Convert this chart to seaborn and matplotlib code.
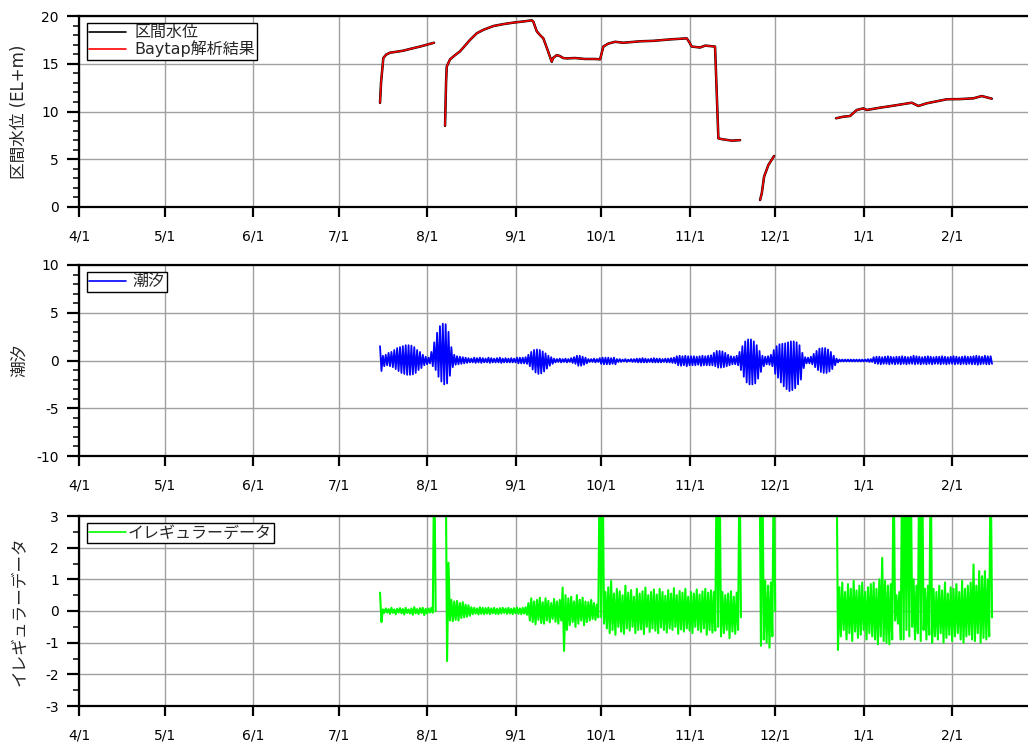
import numpy as np
import pandas as pd
import matplotlib
matplotlib.use("Agg")
import matplotlib.pyplot as plt
from matplotlib.lines import Line2D
from matplotlib.ticker import MultipleLocator, FixedLocator, FixedFormatter
import seaborn as sns

START = pd.Timestamp("2018-04-01")
END = pd.Timestamp("2019-03-01")
month_ticks = pd.date_range("2018-04-01", "2019-02-01", freq="MS")
tick_labels = ["4/1", "5/1", "6/1", "7/1", "8/1", "9/1", "10/1", "11/1", "12/1", "1/1", "2/1"]

# ---- 区間水位 (EL+m): observed segments, days counted from 4/1 ----
level_days = [
    [105.50, 105.85, 106.66, 107.61, 109.01, 111.11, 113.67, 116.02, 119.52, 121.98, 124.43],
    [128.29, 128.64, 128.88, 130.04, 131.79, 133.54, 135.30, 137.05, 139.40, 141.71, 145.22,
     148.72, 152.82, 156.33, 158.67, 159.24, 160.43, 161.58, 162.74, 164.04, 165.68, 166.14,
     167.44, 168.59, 169.65, 170.94, 173.85, 177.36, 180.86, 182.62, 183.77, 185.42, 187.87,
     190.78, 196.63, 201.30, 207.15, 213.00, 213.81, 214.76, 217.67, 219.42, 222.92, 224.08,
     225.38, 228.78, 231.69],
    [238.70, 239.29, 240.10, 241.61, 243.60],
    [265.33, 267.79, 270.24, 272.59, 274.90, 276.10, 280.76, 285.42, 291.87, 294.18, 297.13,
     304.14, 308.80, 313.46, 316.40, 317.91, 319.91],
]
level_vals = [
    [10.9, 13.0, 15.6, 15.95, 16.16, 16.25, 16.37, 16.55, 16.8, 17.0, 17.2],
    [8.5, 13.0, 14.7, 15.46, 15.9, 16.3, 16.9, 17.5, 18.19, 18.55, 18.95,
     19.15, 19.33, 19.45, 19.55, 19.4, 18.4, 18.0, 17.66, 16.6, 15.2, 15.6,
     15.9, 15.8, 15.6, 15.56, 15.6, 15.5, 15.5, 15.46, 16.8, 17.1, 17.3,
     17.2, 17.35, 17.4, 17.55, 17.66, 17.3, 16.8, 16.7, 16.9, 16.8, 7.19,
     7.1, 6.95, 7.0],
    [0.73, 1.43, 3.17, 4.4, 5.34],
    [9.29, 9.45, 9.53, 10.16, 10.33, 10.16, 10.4, 10.61, 10.92, 10.58, 10.86,
     11.28, 11.3, 11.38, 11.62, 11.5, 11.34],
]
# Baytap analysis result follows the observed level
baytap_vals = level_vals

# ---- daily high / low of the tidal and irregular components (from 7/15 12:00) ----
FIRST_DAY = 105.5
tide_hi = [
    1.5, 0.5, 0.6, 0.8, 0.9, 1.1, 1.3, 1.4, 1.5, 1.6,
    1.6, 1.55, 1.4, 1.1, 0.9, 0.6, 0.4, 0.3, 0.9, 1.9,
    2.9, 3.6, 3.85, 3.8, 3.0, 1.4, 0.6, 0.45, 0.4, 0.35,
    0.3, 0.25, 0.2, 0.3, 0.25, 0.3, 0.25, 0.2, 0.3, 0.25,
    0.2, 0.25, 0.3, 0.2, 0.25, 0.2, 0.25, 0.2, 0.3, 0.3,
    0.3, 0.35, 0.6, 0.9, 1.1, 1.15, 1.1, 0.95, 0.75, 0.5,
    0.35, 0.2, 0.15, 0.2, 0.15, 0.2, 0.15, 0.25, 0.35, 0.5,
    0.5, 0.4, 0.3, 0.15, 0.15, 0.2, 0.15, 0.25, 0.3, 0.3,
    0.3, 0.25, 0.3, 0.15, 0.15, 0.1, 0.15, 0.1, 0.15, 0.15,
    0.2, 0.2, 0.25, 0.2, 0.15, 0.2, 0.25, 0.2, 0.2, 0.15,
    0.2, 0.2, 0.25, 0.3, 0.45, 0.5, 0.45, 0.5, 0.45, 0.45,
    0.45, 0.4, 0.45, 0.5, 0.45, 0.5, 0.55, 0.8, 1.0, 1.0,
    0.95, 0.8, 0.6, 0.45, 0.4, 0.5, 0.9, 1.5, 2.0, 2.2,
    2.2, 2.0, 1.6, 1.0, 0.5, 0.4, 0.45, 0.6, 1.1, 1.5,
    1.7, 1.75, 1.8, 1.9, 2.0, 2.0, 1.9, 1.6, 0.8, 0.35,
    0.3, 0.4, 0.7, 1.0, 1.25, 1.3, 1.3, 1.15, 0.9, 0.5,
    0.2, 0.1, 0.1, 0.1, 0.1, 0.1, 0.1, 0.1, 0.1, 0.1,
    0.1, 0.15, 0.15, 0.35, 0.4, 0.4, 0.35, 0.4, 0.45, 0.4,
    0.35, 0.4, 0.4, 0.45, 0.4, 0.35, 0.4, 0.5, 0.45, 0.4,
    0.35, 0.4, 0.45, 0.4, 0.35, 0.4, 0.4, 0.45, 0.4, 0.35,
    0.4, 0.45, 0.4, 0.35, 0.4, 0.45, 0.4, 0.4, 0.45, 0.5,
    0.45, 0.4, 0.5, 0.45, 0.45,
]
tide_lo = [
    -1.1, -0.6, -0.5, -0.6, -0.7, -0.9, -1.1, -1.3, -1.4, -1.5,
    -1.5, -1.45, -1.3, -1.0, -0.8, -0.5, -0.4, -0.3, -0.6, -1.0,
    -1.7, -2.2, -2.5, -2.4, -1.6, -0.7, -0.45, -0.4, -0.35, -0.3,
    -0.25, -0.2, -0.2, -0.25, -0.2, -0.25, -0.2, -0.2, -0.25, -0.2,
    -0.2, -0.2, -0.25, -0.2, -0.2, -0.2, -0.2, -0.2, -0.3, -0.3,
    -0.3, -0.35, -0.6, -0.95, -1.25, -1.4, -1.35, -1.15, -0.85, -0.55,
    -0.35, -0.2, -0.15, -0.2, -0.15, -0.2, -0.15, -0.25, -0.35, -0.55,
    -0.55, -0.45, -0.3, -0.15, -0.15, -0.2, -0.15, -0.35, -0.4, -0.4,
    -0.4, -0.35, -0.4, -0.15, -0.15, -0.1, -0.15, -0.1, -0.15, -0.15,
    -0.2, -0.2, -0.2, -0.2, -0.15, -0.2, -0.2, -0.2, -0.2, -0.15,
    -0.2, -0.2, -0.25, -0.3, -0.5, -0.55, -0.5, -0.6, -0.5, -0.5,
    -0.5, -0.45, -0.55, -0.5, -0.5, -0.5, -0.5, -0.6, -0.75, -0.75,
    -0.7, -0.6, -0.5, -0.4, -0.4, -0.5, -1.0, -1.7, -2.3, -2.5,
    -2.5, -2.4, -1.9, -1.2, -0.6, -0.4, -0.45, -0.6, -1.4, -1.8,
    -2.3, -2.7, -3.0, -3.2, -3.1, -2.9, -2.5, -2.0, -0.8, -0.3,
    -0.3, -0.4, -0.7, -1.0, -1.2, -1.3, -1.3, -1.15, -0.9, -0.5,
    -0.2, -0.1, -0.1, -0.1, -0.1, -0.1, -0.1, -0.1, -0.1, -0.1,
    -0.1, -0.15, -0.15, -0.3, -0.35, -0.4, -0.35, -0.35, -0.4, -0.35,
    -0.4, -0.35, -0.4, -0.35, -0.4, -0.35, -0.35, -0.4, -0.35, -0.4,
    -0.35, -0.4, -0.35, -0.4, -0.35, -0.35, -0.4, -0.35, -0.4, -0.35,
    -0.35, -0.4, -0.35, -0.4, -0.35, -0.4, -0.35, -0.4, -0.4, -0.45,
    -0.4, -0.35, -0.4, -0.4, -0.35,
]

NA = np.nan
irr_hi = [
    0.58, 0.05, 0.08, 0.06, 0.1, 0.05, 0.07, 0.09, 0.06, 0.1,
    0.05, 0.08, 0.12, 0.06, 0.09, 0.1, 0.07, 0.08, 0.1, 5.0,
    NA, NA, NA, 5.0, 1.52, 0.35, 0.3, 0.32, 0.25, 0.28,
    0.2, 0.18, 0.12, 0.1, 0.08, 0.12, 0.1, 0.09, 0.11, 0.08,
    0.1, 0.07, 0.09, 0.1, 0.08, 0.1, 0.07, 0.09, 0.11, 0.08,
    0.1, 0.12, 0.25, 0.4, 0.3, 0.35, 0.42, 0.28, 0.4, 0.32,
    0.25, 0.38, 0.3, 0.35, 0.74, 0.5, 0.4, 0.45, 0.3, 0.5,
    0.35, 0.42, 0.3, 0.28, 0.35, 0.25, 0.2, 5.0, 5.0, 0.6,
    0.75, 0.95, 0.55, 0.7, 0.62, 0.5, 0.8, 0.58, 0.66, 0.45,
    0.7, 0.55, 0.62, 0.74, 0.5, 0.6, 0.68, 0.52, 0.7, 0.6,
    0.48, 0.66, 0.55, 0.72, 0.5, 0.63, 0.58, 0.7, 0.45, 0.6,
    0.55, 0.68, 0.52, 0.62, 0.7, 0.58, 0.65, 0.6, 5.0, 5.0,
    0.6, 0.5, 0.55, 0.62, 0.45, 0.58, 5.0, NA, NA, NA,
    NA, NA, NA, 5.0, 5.0, 0.95, 0.8, 0.9, 5.0, NA,
    NA, NA, NA, NA, NA, NA, NA, NA, NA, NA,
    NA, NA, NA, NA, NA, NA, NA, NA, NA, NA,
    5.0, 0.75, 0.9, 0.6, 0.85, 0.7, 0.95, 0.65, 0.8, 0.9,
    0.6, 0.75, 0.85, 0.9, 0.7, 1.0, 1.68, 0.95, 0.8, 0.85,
    5.0, 0.5, 0.6, 5.0, 5.0, 5.0, 5.0, 1.0, 0.8, 5.0,
    5.0, 0.7, 0.8, 5.0, 0.7, 0.6, 0.8, 0.65, 0.9, 0.55,
    0.75, 0.7, 0.85, 0.6, 0.95, 0.7, 0.8, 0.9, 1.47, 0.8,
    1.26, 1.1, 1.26, 1.0, 5.0,
]
irr_lo = [
    -0.35, -0.06, -0.05, -0.09, -0.06, -0.1, -0.05, -0.07, -0.11, -0.06,
    -0.08, -0.12, -0.07, -0.1, -0.06, -0.13, -0.08, -0.05, -0.05, 0.0,
    NA, NA, NA, -1.58, -0.3, -0.32, -0.28, -0.3, -0.22, -0.2,
    -0.18, -0.15, -0.1, -0.08, -0.11, -0.09, -0.1, -0.08, -0.1, -0.07,
    -0.09, -0.1, -0.08, -0.06, -0.09, -0.08, -0.1, -0.07, -0.09, -0.1,
    -0.08, -0.12, -0.3, -0.35, -0.42, -0.28, -0.38, -0.4, -0.3, -0.36,
    -0.25, -0.34, -0.4, -0.3, -1.26, -0.6, -0.45, -0.35, -0.5, -0.4,
    -0.3, -0.45, -0.35, -0.3, -0.25, -0.28, -0.2, -0.2, -0.4, -0.55,
    -0.7, -0.6, -0.75, -0.5, -0.65, -0.72, -0.55, -0.62, -0.5, -0.7,
    -0.6, -0.58, -0.73, -0.5, -0.66, -0.55, -0.62, -0.7, -0.52, -0.6,
    -0.68, -0.55, -0.6, -0.5, -0.72, -0.58, -0.65, -0.55, -0.62, -0.7,
    -0.5, -0.6, -0.66, -0.55, -0.75, -0.6, -0.68, -0.62, -0.5, -0.8,
    -0.7, -0.6, -0.86, -0.65, -0.72, -0.6, -0.2, NA, NA, NA,
    NA, NA, NA, -1.1, -0.9, -1.0, -1.16, -0.8, 0.0, NA,
    NA, NA, NA, NA, NA, NA, NA, NA, NA, NA,
    NA, NA, NA, NA, NA, NA, NA, NA, NA, NA,
    -1.23, -0.8, -0.6, -0.9, -0.7, -0.95, -0.65, -0.85, -0.75, -0.6,
    -0.9, -0.7, -0.8, -0.9, -1.05, -0.8, -0.95, -1.0, -1.05, -0.9,
    -0.3, -0.4, -0.9, -0.9, -0.6, -0.8, -0.5, -0.9, -0.7, -0.95,
    -0.6, -0.9, -0.75, -1.0, -0.8, -0.9, -0.7, -1.0, -0.85, -0.75,
    -0.95, -0.8, -0.7, -0.9, -1.0, -0.8, -0.75, -0.9, -0.95, -0.7,
    -1.0, -0.85, -0.9, -0.8, -0.2,
]


def level_frame(days, vals):
    rows = []
    for seg, (ds, vs) in enumerate(zip(days, vals)):
        for d, v in zip(ds, vs):
            rows.append((d, v, seg))
    df = pd.DataFrame(rows, columns=["day", "value", "seg"])
    df["date"] = START + pd.to_timedelta(df["day"], unit="D")
    return df


def highlow_frame(hi, lo, first_day):
    """High at the start of each day, low half a day later; NaN days split segments."""
    rows = []
    seg, gap = 0, False
    for k, (h, l) in enumerate(zip(hi, lo)):
        if np.isnan(h):
            if not gap:
                seg += 1
            gap = True
            continue
        gap = False
        rows.append((first_day + k, h, seg))
        rows.append((first_day + k + 0.5, l, seg))
    df = pd.DataFrame(rows, columns=["day", "value", "seg"])
    df["date"] = START + pd.to_timedelta(df["day"], unit="D")
    return df


level_df = level_frame(level_days, level_vals)
baytap_df = level_frame(level_days, baytap_vals)
tide_df = highlow_frame(tide_hi, tide_lo, FIRST_DAY)
irr_df = highlow_frame(irr_hi, irr_lo, FIRST_DAY)

sns.set_theme(style="white")
plt.rcParams["font.family"] = ["DejaVu Sans", "Noto Sans CJK JP"]
plt.rcParams["axes.unicode_minus"] = False

fig = plt.figure(figsize=(10.28, 7.49), dpi=100)
W, H = 1028.0, 749.0
left = 79 / W
width = (1032 - 79) / W
ax1 = fig.add_axes([left, (H - 207) / H, width, 191 / H])
ax2 = fig.add_axes([left, (H - 456) / H, width, 191 / H])
ax3 = fig.add_axes([left, (H - 706) / H, width, 190 / H])

sns.lineplot(data=level_df, x="date", y="value", units="seg", estimator=None, sort=False,
             color="black", lw=1.8, ax=ax1, legend=False)
sns.lineplot(data=baytap_df, x="date", y="value", units="seg", estimator=None, sort=False,
             color="#ff0000", lw=1.15, ax=ax1, legend=False)
sns.lineplot(data=tide_df, x="date", y="value", units="seg", estimator=None, sort=False,
             color="#0000ff", lw=1.3, ax=ax2, legend=False)
sns.lineplot(data=irr_df, x="date", y="value", units="seg", estimator=None, sort=False,
             color="#00ff00", lw=1.5, ax=ax3, legend=False)

panels = [
    (ax1, (0, 20), 5, 1, "区間水位 (EL+m)"),
    (ax2, (-10, 10), 5, 1, "潮汐"),
    (ax3, (-3, 3), 1, 0.5, "イレギュラーデータ"),
]
for ax, ylim, major, minor, ylabel in panels:
    ax.set_xlim(START, END)
    ax.set_ylim(*ylim)
    ax.xaxis.set_major_locator(FixedLocator(matplotlib.dates.date2num(month_ticks)))
    ax.xaxis.set_major_formatter(FixedFormatter(tick_labels))
    ax.yaxis.set_major_locator(MultipleLocator(major))
    ax.yaxis.set_minor_locator(MultipleLocator(minor))
    ax.set_axisbelow(True)
    ax.grid(True, which="major", color="#a0a0a0", lw=1.0)
    ax.set_xlabel("")
    ax.set_ylabel(ylabel, fontsize=12)
    ax.yaxis.set_label_coords(-0.053, 0.5)
    for side in ["top", "left", "bottom", "right"]:
        ax.spines[side].set_color("black")
        ax.spines[side].set_linewidth(1.6)
    ax.tick_params(axis="x", which="major", direction="out", length=7.5, width=1.6,
                   pad=9, labelsize=10, colors="black", bottom=True)
    ax.tick_params(axis="y", which="major", direction="out", length=8.5, width=1.6,
                   pad=6, labelsize=10, colors="black", left=True)
    ax.tick_params(axis="y", which="minor", direction="out", length=4.3, width=1.3,
                   left=True)

legend_specs = [
    (ax1, [("区間水位", "black"), ("Baytap解析結果", "#ff0000")], 0.5),
    (ax2, [("潮汐", "#0000ff")], 0.4),
    (ax3, [("イレギュラーデータ", "#00ff00")], 0.1),
]
for ax, entries, tpad in legend_specs:
    handles = [Line2D([], [], color=c, lw=1.2) for _, c in entries]
    leg = ax.legend(handles, [t for t, _ in entries], loc="upper left",
                    bbox_to_anchor=(8 / 953, 1 - 7 / 191), borderaxespad=0,
                    frameon=True, fancybox=False, shadow=False, framealpha=1,
                    edgecolor="black", fontsize=11.5, handlelength=2.3,
                    handletextpad=tpad, borderpad=0.15, labelspacing=0.0)
    leg.get_frame().set_linewidth(1.0)

fig.savefig("out.png", dpi=100)
